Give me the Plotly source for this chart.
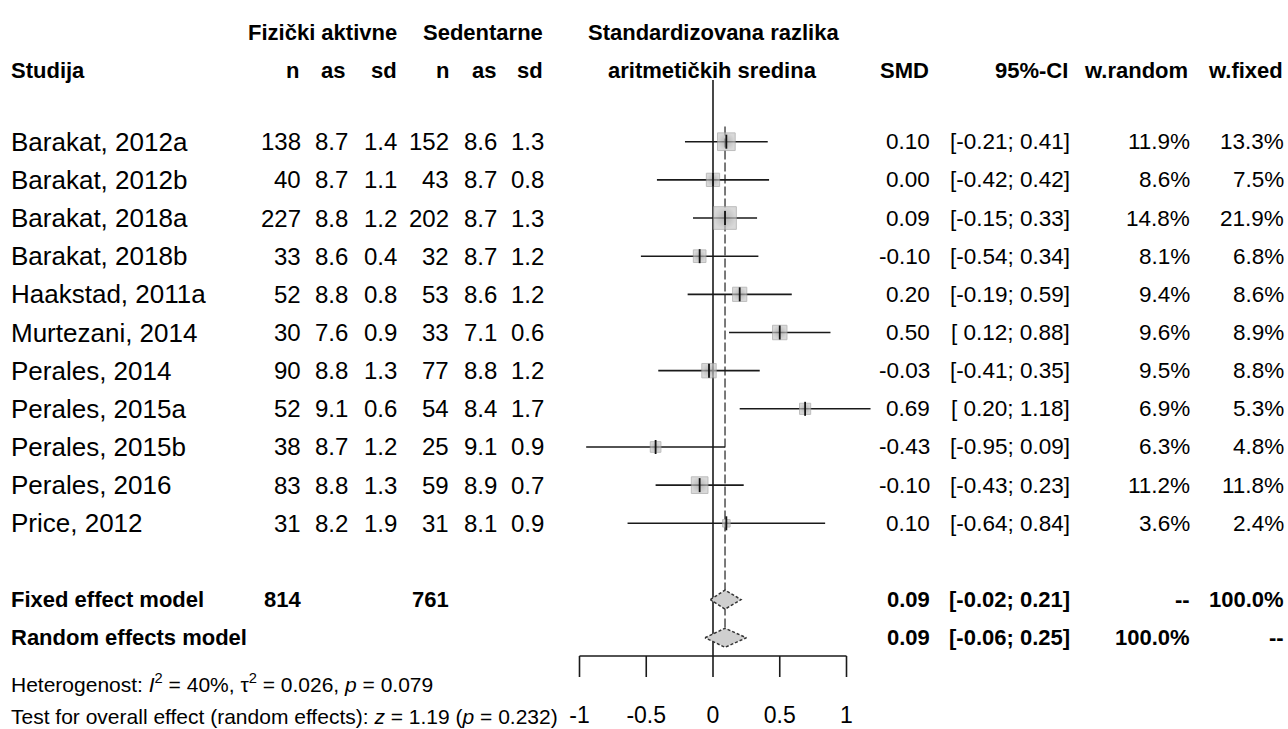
import plotly.graph_objects as go
import numpy as np

# ---------------- data ----------------
studies = ["Barakat, 2012a", "Barakat, 2012b", "Barakat, 2018a", "Barakat, 2018b",
           "Haakstad, 2011a", "Murtezani, 2014", "Perales, 2014", "Perales, 2015a",
           "Perales, 2015b", "Perales, 2016", "Price, 2012"]
n_active = [138, 40, 227, 33, 52, 30, 90, 52, 38, 83, 31]
mean_active = [8.7, 8.7, 8.8, 8.6, 8.8, 7.6, 8.8, 9.1, 8.7, 8.8, 8.2]
sd_active = [1.4, 1.1, 1.2, 0.4, 0.8, 0.9, 1.3, 0.6, 1.2, 1.3, 1.9]
n_sed = [152, 43, 202, 32, 53, 33, 77, 54, 25, 59, 31]
mean_sed = [8.6, 8.7, 8.7, 8.7, 8.6, 7.1, 8.8, 8.4, 9.1, 8.9, 8.1]
sd_sed = [1.3, 0.8, 1.3, 1.2, 1.2, 0.6, 1.2, 1.7, 0.9, 0.7, 0.9]
smd = [0.10, 0.00, 0.09, -0.10, 0.20, 0.50, -0.03, 0.69, -0.43, -0.10, 0.10]
ci_low = [-0.21, -0.42, -0.15, -0.54, -0.19, 0.12, -0.41, 0.20, -0.95, -0.43, -0.64]
ci_high = [0.41, 0.42, 0.33, 0.34, 0.59, 0.88, 0.35, 1.18, 0.09, 0.23, 0.84]
w_random = [11.9, 8.6, 14.8, 8.1, 9.4, 9.6, 9.5, 6.9, 6.3, 11.2, 3.6]
w_fixed = [13.3, 7.5, 21.9, 6.8, 8.6, 8.9, 8.8, 5.3, 4.8, 11.8, 2.4]

fixed_total_active, fixed_total_sed = 814, 761
fixed_smd, fixed_lo, fixed_hi = 0.09, -0.02, 0.21
random_smd, random_lo, random_hi = 0.09, -0.06, 0.25
het_i2, het_tau2, het_p = 40, 0.026, 0.079
test_z, test_p = 1.19, 0.232
tick_vals = [-1, -0.5, 0, 0.5, 1]
tick_text = ["-1", "-0.5", "0", "0.5", "1"]

# ---------------- layout constants ----------------
W, H = 1288, 729
X0_PX, PX_PER_UNIT = 713.0, 133.5      # pixel of SMD=0, pixels per SMD unit
ROW0_PX, ROW_PX = 141.7, 38.16         # pixel of first study row, row height
FONT = "Liberation Sans, Arial, Helvetica, sans-serif"
FS_NAME, FS_NUM, FS_EST, FSB, FST, FSF = 26, 24, 22.5, 22, 23, 21

xr = [-X0_PX / PX_PER_UNIT, (W - X0_PX) / PX_PER_UNIT]
yr = [(H - ROW0_PX) / ROW_PX, -ROW0_PX / ROW_PX]

ns = len(studies)
rows = list(range(ns))
row_fixed, row_random = ns + 1, ns + 2
AXIS_ROW = (656 - ROW0_PX) / ROW_PX
TICK_END_ROW = (677 - ROW0_PX) / ROW_PX
TICKLBL_ROW = (717 - ROW0_PX) / ROW_PX

fig = go.Figure()
NOHOVER = dict(hoverinfo="skip", showlegend=False)

# null line
fig.add_trace(go.Scatter(x=[0, 0], y=[(80 - ROW0_PX) / ROW_PX, AXIS_ROW], mode="lines",
                         line=dict(color="#1a1a1a", width=1.6), **NOHOVER))
# fixed-effect dashed line
fig.add_trace(go.Scatter(x=[fixed_smd, fixed_smd], y=[-0.4, row_random - 0.25], mode="lines",
                         line=dict(color="#333333", width=1.3, dash="9px,3px"), **NOHOVER))

# CI lines
xs, ys = [], []
for r, lo, hi in zip(rows, ci_low, ci_high):
    xs += [lo, hi, None]
    ys += [r, r, None]
fig.add_trace(go.Scatter(x=xs, y=ys, mode="lines", line=dict(color="#1a1a1a", width=1.6),
                         **NOHOVER))

# weight squares
sizes = [4.85 * np.sqrt(w) for w in w_fixed]
fig.add_trace(go.Scatter(x=smd, y=rows, mode="markers",
                         marker=dict(symbol="square", size=sizes, color="#c9c9c9",
                                     gradient=dict(type="radial", color="#979797"),
                                     line=dict(width=1, color="#a3a3a3")),
                         **NOHOVER))
# point estimate ticks
fig.add_trace(go.Scatter(x=smd, y=rows, mode="markers",
                         marker=dict(symbol="line-ns", size=10, line=dict(color="#111111", width=1.8)),
                         **NOHOVER))

# diamonds
for r, est, lo, hi in [(row_fixed, fixed_smd, fixed_lo, fixed_hi),
                       (row_random, random_smd, random_lo, random_hi)]:
    h = 0.25
    fig.add_trace(go.Scatter(x=[lo, est, hi, est, lo], y=[r, r - h, r, r + h, r],
                             mode="lines", fill="toself", fillcolor="#cfcfcf",
                             line=dict(color="#333333", width=1.5, dash="3px,2px"), **NOHOVER))

# x axis (line + ticks + labels) drawn from tick values
ax_x, ax_y = [tick_vals[0], tick_vals[-1], None], [AXIS_ROW, AXIS_ROW, None]
for tv in tick_vals:
    ax_x += [tv, tv, None]
    ax_y += [AXIS_ROW, TICK_END_ROW, None]
fig.add_trace(go.Scatter(x=ax_x, y=ax_y, mode="lines", line=dict(color="#1a1a1a", width=1.6),
                         **NOHOVER))
fig.add_trace(go.Scatter(x=tick_vals, y=[TICKLBL_ROW] * len(tick_vals), mode="text",
                         text=tick_text, textposition="middle center",
                         textfont=dict(family=FONT, size=FST, color="black"),
                         cliponaxis=False, **NOHOVER))

ann = []


def txt(xpx, row, s, anchor="right", size=FS_NUM, bold=False):
    if bold:
        s = "<b>" + s + "</b>"
    ann.append(dict(x=xpx / W, xref="paper", y=row, yref="y", text=s, showarrow=False,
                    xanchor=anchor, yanchor="middle", borderpad=0,
                    font=dict(family=FONT, size=size, color="black")))


HDR1, HDR2 = (32 - ROW0_PX) / ROW_PX, (70 - ROW0_PX) / ROW_PX
# headers
txt(398, HDR1, "Fizički aktivne", bold=True, size=FSB)
txt(544, HDR1, "Sedentarne", bold=True, size=FSB)
txt(713, HDR1, "Standardizovana razlika", anchor="center", bold=True, size=FSB)
txt(10, HDR2, "Studija", anchor="left", bold=True, size=FSB)
for xpx, s in [(300, "n"), (346, "as"), (398, "sd"), (450, "n"), (497, "as"), (544, "sd")]:
    txt(xpx, HDR2, s, bold=True, size=FSB)
txt(712, HDR2, "aritmetičkih sredina", anchor="center", bold=True, size=FSB)
txt(930, HDR2, "SMD", bold=True, size=FSB)
txt(1069, HDR2, "95%-CI", bold=True, size=FSB)
txt(1189, HDR2, "w.random", bold=True, size=FSB)
txt(1284, HDR2, "w.fixed", bold=True, size=FSB)


def ci_str(lo, hi):
    lo_s = f"{lo:.2f}" if lo < 0 else f" {lo:.2f}"
    return f"[{lo_s}; {hi:.2f}]"


for i in rows:
    txt(10, i, studies[i], anchor="left", size=FS_NAME)
    txt(302, i, str(n_active[i]))
    txt(349, i, f"{mean_active[i]:.1f}")
    txt(398, i, f"{sd_active[i]:.1f}")
    txt(450, i, str(n_sed[i]))
    txt(498, i, f"{mean_sed[i]:.1f}")
    txt(545, i, f"{sd_sed[i]:.1f}")
    txt(931, i, f"{smd[i]:.2f}", size=FS_EST)
    txt(1071, i, ci_str(ci_low[i], ci_high[i]), size=FS_EST)
    txt(1191, i, f"{w_random[i]:.1f}%", size=FS_EST)
    txt(1285, i, f"{w_fixed[i]:.1f}%", size=FS_EST)

# summary rows
txt(10, row_fixed, "Fixed effect model", anchor="left", bold=True, size=FSB)
txt(302, row_fixed, str(fixed_total_active), bold=True, size=FSB)
txt(450, row_fixed, str(fixed_total_sed), bold=True, size=FSB)
txt(931, row_fixed, f"{fixed_smd:.2f}", bold=True, size=FSB)
txt(1071, row_fixed, ci_str(fixed_lo, fixed_hi), bold=True, size=FSB)
txt(1191, row_fixed, "--", bold=True, size=FSB)
txt(1285, row_fixed, "100.0%", bold=True, size=FSB)

txt(10, row_random, "Random effects model", anchor="left", bold=True, size=FSB)
txt(931, row_random, f"{random_smd:.2f}", bold=True, size=FSB)
txt(1071, row_random, ci_str(random_lo, random_hi), bold=True, size=FSB)
txt(1191, row_random, "100.0%", bold=True, size=FSB)
txt(1285, row_random, "--", bold=True, size=FSB)

txt(10, (683 - ROW0_PX) / ROW_PX,
    f"Heterogenost: <i>I</i><sup>2</sup> = {het_i2}%, τ<sup>2</sup> = {het_tau2:.3f}, "
    f"<i>p</i> = {het_p:.3f}", anchor="left", size=FSF)
txt(10, (716 - ROW0_PX) / ROW_PX,
    f"Test for overall effect (random effects): <i>z</i> = {test_z:.2f} "
    f"(<i>p</i> = {test_p:.3f})", anchor="left", size=FSF)

fig.update_layout(
    width=W, height=H, margin=dict(l=0, r=0, t=0, b=0, autoexpand=False),
    paper_bgcolor="white", plot_bgcolor="white",
    xaxis=dict(range=xr, visible=False, domain=[0, 1], fixedrange=True),
    yaxis=dict(range=yr, visible=False, domain=[0, 1], fixedrange=True),
    annotations=ann,
    showlegend=False,
)

fig.write_html("out.html", config=dict(displayModeBar=False))
